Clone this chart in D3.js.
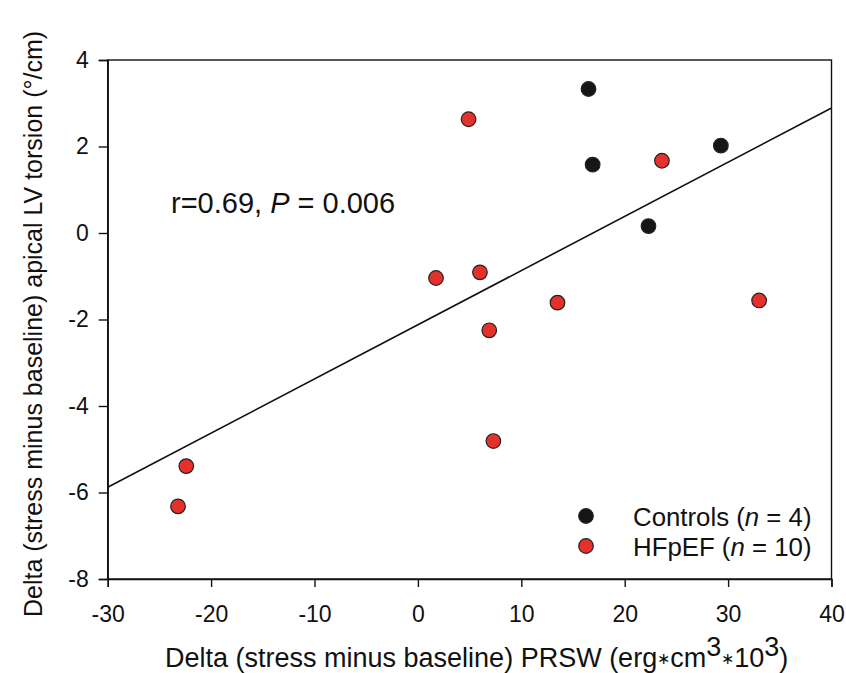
<!DOCTYPE html>
<html><head><meta charset="utf-8">
<script src="https://cdn.jsdelivr.net/npm/d3@7"></script>
<style>body{margin:0;background:#fff}svg text{font-family:"Liberation Sans",Arial,sans-serif;fill:#111}</style>
</head><body><svg id="c" width="846" height="673"></svg>
<script>
const xTicks=[-30,-20,-10,0,10,20,30,40];
const yTicks=[-8,-6,-4,-2,0,2,4];
const controlsX=[16.5,16.9,22.3,29.3];
const controlsY=[3.33,1.58,0.16,2.02];
const hfpefX=[4.9,23.6,1.75,6.0,13.5,6.9,33.0,7.3,-22.4,-23.2];
const hfpefY=[2.63,1.67,-1.04,-0.91,-1.61,-2.25,-1.56,-4.81,-5.39,-6.32];
const fitX=[-30,40];
const fitY=[-5.88,2.89];
const legendLabels=["Controls","HFpEF"];
const legendN=["4","10"];
const colors=["#161616","#e5312b"];

const svg=d3.select("#c");
const x=d3.scaleLinear().domain([-30,40]).range([107.7,831.5]);
const y=d3.scaleLinear().domain([-8,4]).range([579,60]);

svg.append("rect").attr("x",x(-30)).attr("y",y(4)).attr("width",x(40)-x(-30)).attr("height",y(-8)-y(4))
  .attr("fill","none").attr("stroke","#111").attr("stroke-width",1.4);

const xa=svg.append("g").attr("transform",`translate(0,${y(-8)})`)
  .call(d3.axisBottom(x).tickValues(xTicks).tickSize(8).tickPadding(19));
const ya=svg.append("g").attr("transform",`translate(${x(-30)},0)`)
  .call(d3.axisLeft(y).tickValues(yTicks).tickSize(9).tickPadding(10));
[xa,ya].forEach(a=>{a.select(".domain").attr("stroke","#111").attr("stroke-width",1.4);
  a.selectAll(".tick line").attr("stroke","#111").attr("stroke-width",1.4);
  a.selectAll(".tick text").attr("font-size",23).attr("fill","#111").style("font-family","Liberation Sans, Arial, sans-serif")
   .text(d=>d<0?"-"+Math.abs(d):d);});

svg.append("line").attr("x1",x(fitX[0])).attr("y1",y(fitY[0])).attr("x2",x(fitX[1])).attr("y2",y(fitY[1]))
  .attr("stroke","#111").attr("stroke-width",1.6);

function pts(xs,ys,col){
  svg.append("g").selectAll("circle").data(xs.map((v,i)=>[v,ys[i]])).join("circle")
   .attr("cx",d=>x(d[0])).attr("cy",d=>y(d[1])).attr("r",7.3)
   .attr("fill",col).attr("stroke","#222").attr("stroke-width",1.2);
}
pts(controlsX,controlsY,colors[0]);
pts(hfpefX,hfpefY,colors[1]);

const an=svg.append("text").attr("x",171).attr("y",213).attr("font-size",29);
an.append("tspan").text("r=0.69, ");
an.append("tspan").attr("font-style","italic").text("P");
an.append("tspan").text(" = 0.006");

legendLabels.forEach((l,i)=>{
  const yy=516+i*30;
  svg.append("circle").attr("cx",586).attr("cy",yy).attr("r",7.3).attr("fill",colors[i]).attr("stroke","#222").attr("stroke-width",1.2);
  const t=svg.append("text").attr("x",633).attr("y",yy+10).attr("font-size",25.8);
  t.append("tspan").text(l+" (");
  t.append("tspan").attr("font-style","italic").text("n");
  t.append("tspan").text(" = "+legendN[i]+")");
});

const xt=svg.append("text").attr("x",165).attr("y",667).attr("font-size",27);
xt.append("tspan").text("Delta (stress minus baseline) PRSW (erg");
xt.append("tspan").attr("font-size",16).attr("dy",-3).text("\u2217");
xt.append("tspan").attr("dy",3).text("cm");
xt.append("tspan").attr("dy",-11).text("3");
xt.append("tspan").attr("font-size",16).attr("dy",8).text("\u2217");
xt.append("tspan").attr("dy",3).text("10");
xt.append("tspan").attr("dy",-11).text("3");
xt.append("tspan").attr("dy",11).text(")");

svg.append("text").attr("transform","translate(42,324) rotate(-90)").attr("text-anchor","middle").attr("font-size",25)
  .text("Delta (stress minus baseline) apical LV torsion (\u00b0/cm)");
</script></body></html>
